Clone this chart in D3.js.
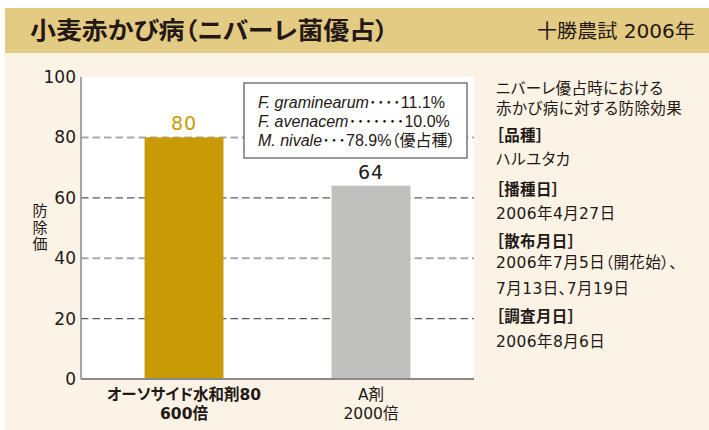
<!DOCTYPE html>
<html>
<head>
<meta charset="utf-8">
<script src="https://cdn.jsdelivr.net/npm/d3@7"></script>
<style>
    body { margin: 0; background: #fff; }
    text { font-family: "DejaVu Sans", "Noto Sans CJK JP", sans-serif; fill: #231815; font-feature-settings: "palt"; }
    .cjk { font-family: "Noto Sans CJK JP", sans-serif; }
</style>
</head>
<body>
<div id="chart"></div>
<script>
// data
const categories = ["オーソサイド水和剤80\n600倍", "A剤\n2000倍"];
const values = [80, 64];
const barColors = ["#c89a06", "#c0c1bf"];
const labelColors = ["#c89a06", "#231815"];
const yTicks = [0, 20, 40, 60, 80, 100];
const legendLines = [
    ["F. graminearum", "････11.1%"],
    ["F. avenacem", "･･･････10.0%"],
    ["M. nivale", "･･･78.9%（優占種）"]
];
const notes = [
    ["ニバーレ優占時における", false],
    ["赤かび病に対する防除効果", false],
    ["［品種］", true],
    ["ハルユタカ", false],
    ["［播種日］", true],
    ["2006年4月27日", false],
    ["［散布月日］", true],
    ["2006年7月5日（開花始）、", false],
    ["7月13日、7月19日", false],
    ["［調査月日］", true],
    ["2006年8月6日", false]
];

const W = 709, H = 430;
const svg = d3.select("#chart").append("svg")
    .attr("width", W)
    .attr("height", H);

// panels
svg.append("rect").attr("x", 5).attr("y", 53).attr("width", W - 5).attr("height", H - 53).attr("fill", "#fbf3e5");
svg.append("rect").attr("x", 5).attr("y", 8).attr("width", W - 5).attr("height", 45).attr("fill", "#e3cb84");

svg.append("text")
    .attr("class", "cjk")
    .attr("x", 30).attr("y", 39)
    .attr("font-size", 24).attr("font-weight", "bold")
    .attr("textLength", 358).attr("lengthAdjust", "spacingAndGlyphs")
    .text("小麦赤かび病（ニバーレ菌優占）");

svg.append("text")
    .attr("x", 537).attr("y", 38)
    .attr("font-size", 19)
    .attr("textLength", 158).attr("lengthAdjust", "spacingAndGlyphs")
    .text("十勝農試 2006年");

const margin = {left: 81, top: 77, right: 235, bottom: 51};
const plotW = W - margin.left - margin.right;
const plotH = H - margin.top - margin.bottom;

const g = svg.append("g").attr("transform", "translate(" + margin.left + "," + margin.top + ")");

g.append("rect").attr("width", plotW).attr("height", plotH).attr("fill", "#fff");

const x = d3.scaleBand()
    .domain(categories)
    .range([0, plotW])
    .paddingInner(0.578)
    .paddingOuter(0.34);

const y = d3.scaleLinear().domain([0, 100]).range([plotH, 0]);

// grid (alternating light / dark dashes like the print)
g.selectAll(".grid")
    .data(yTicks.filter(t => t > 0 && t < 100))
    .enter().append("line")
    .attr("x1", 0).attr("x2", plotW)
    .attr("y1", d => y(d)).attr("y2", d => y(d))
    .attr("stroke", d => d % 40 === 0 ? "#a9a9a9" : "#5a5a5a")
    .attr("stroke-width", d => d % 40 === 0 ? 2 : 1.3)
    .attr("stroke-dasharray", "7.5,4");

// bars
g.selectAll(".bar")
    .data(values)
    .enter().append("rect")
    .attr("x", (d, i) => x(categories[i]))
    .attr("y", d => y(d))
    .attr("width", x.bandwidth())
    .attr("height", d => plotH - y(d))
    .attr("fill", (d, i) => barColors[i]);

g.selectAll(".val")
    .data(values)
    .enter().append("text")
    .attr("x", (d, i) => x(categories[i]) + x.bandwidth() / 2)
    .attr("y", d => y(d) - 7)
    .attr("text-anchor", "middle")
    .attr("font-size", 19)
    .style("letter-spacing", "1px")
    .style("fill", (d, i) => labelColors[i])
    .text(d => d);

// axes
const yAxis = g.append("g").call(d3.axisLeft(y).tickValues(yTicks).tickSize(0).tickPadding(5));
yAxis.select(".domain").remove();
yAxis.selectAll("text").attr("font-size", 17).style("font-family", "'DejaVu Sans', sans-serif").style("fill", "#231815");

g.append("line").attr("x1", 0).attr("x2", 0).attr("y1", 0).attr("y2", plotH)
    .attr("stroke", "#8a8a8a").attr("stroke-width", 1.5);
g.append("line").attr("x1", 0).attr("x2", plotW).attr("y1", plotH).attr("y2", plotH)
    .attr("stroke", "#8a8a8a").attr("stroke-width", 2);

// x labels
categories.forEach((c, i) => {
    const lines = c.split("\n");
    lines.forEach((l, j) => {
        g.append("text")
            .attr("x", x(c) + x.bandwidth() / 2)
            .attr("y", plotH + 21 + j * 19)
            .attr("text-anchor", "middle")
            .attr("font-size", 15.5)
            .attr("font-weight", i === 0 ? "bold" : "normal")
            .text(l);
    });
});

// y title, vertical
svg.append("text")
    .attr("class", "cjk")
    .attr("x", 40).attr("y", 203)
    .attr("font-size", 15)
    .style("writing-mode", "vertical-rl")
    .style("letter-spacing", "1.5px")
    .text("防除価");

// legend box
const lg = svg.append("g").attr("transform", "translate(244,83)");
lg.append("rect").attr("width", 223).attr("height", 75)
    .attr("fill", "#fff").attr("stroke", "#555").attr("stroke-width", 1.2);
legendLines.forEach((l, i) => {
    const t = lg.append("text").attr("x", 14).attr("y", 25 + i * 19).attr("font-size", 16)
        .style("font-family", "'Liberation Sans', 'Noto Sans CJK JP', sans-serif");
    t.append("tspan").attr("font-style", "italic").text(l[0]);
    t.append("tspan").text(l[1]);
});

// notes on the right
const noteY = [94, 114, 141, 165, 195, 219, 247, 268, 294, 322, 347];
notes.forEach((n, i) => {
    svg.append("text")
        .attr("x", 496).attr("y", noteY[i])
        .attr("font-size", 15.5)
        .style("letter-spacing", "0.4px")
        .attr("font-weight", n[1] ? "bold" : "normal")
        .text(n[0]);
});
</script>
</body>
</html>
